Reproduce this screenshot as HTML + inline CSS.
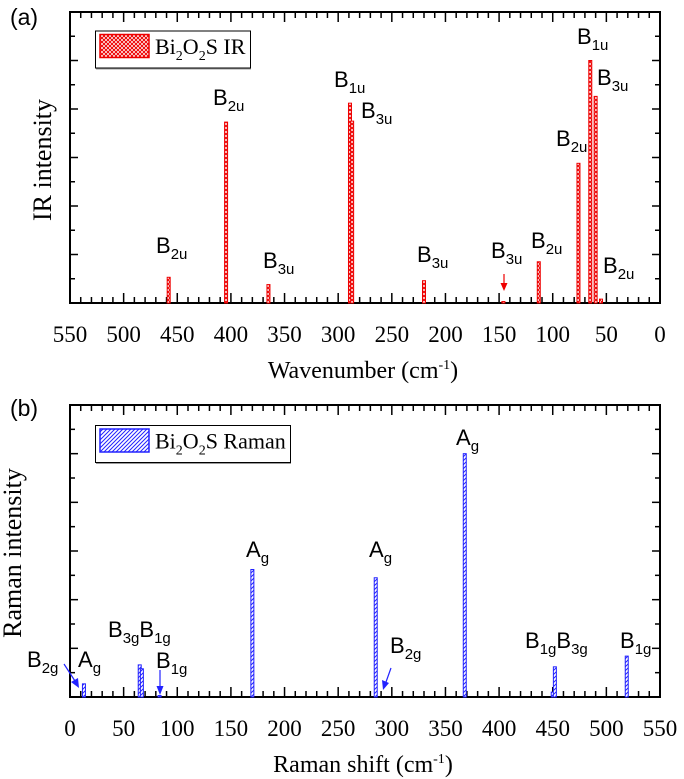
<!DOCTYPE html>
<html><head><meta charset="utf-8"><style>
html,body{margin:0;padding:0;background:#fff;}
svg{display:block;}
</style></head><body>
<svg id="chart" width="684" height="779" viewBox="0 0 684 779" xmlns="http://www.w3.org/2000/svg">
<defs>
<pattern id="xh" width="4" height="4" patternUnits="userSpaceOnUse"><rect width="4" height="4" fill="#fff"/><path d="M0 0L4 4M4 0L0 4" stroke="#e00" stroke-width="1"/></pattern>
<pattern id="dh" width="4" height="4" patternUnits="userSpaceOnUse"><rect width="4" height="4" fill="#fff"/><path d="M-1 1L1 -1M0 4L4 0M3 5L5 3" stroke="#22f" stroke-width="1"/></pattern>
</defs>
<g id="root"></g>
</svg>
<script>
// Panel (a) IR data
const irWavenumbers = [458, 404.5, 365, 289, 287, 220, 146, 113, 76, 65, 60, 55];
const irIntensity = [0.53, 3.73, 0.38, 4.12, 3.75, 0.46, 0.03, 0.85, 2.88, 5.0, 4.26, 0.08];
const irTickLabels = ["550","500","450","400","350","300","250","200","150","100","50","0"];
// Panel (b) Raman data
const ramanShift = [13, 65, 67, 83.5, 170, 285, 368, 450, 452, 519];
const ramanIntensity = [0.27, 0.66, 0.58, 0.03, 2.62, 2.45, 5.0, 0.1, 0.62, 0.84];
const ramanTickLabels = ["0","50","100","150","200","250","300","350","400","450","500","550"];

const NS = "http://www.w3.org/2000/svg";
const root = document.getElementById('root');
function mk(tag, attrs, parent) {
  const e = document.createElementNS(NS, tag);
  for (const k in attrs) e.setAttribute(k, attrs[k]);
  (parent || root).appendChild(e);
  return e;
}
const L = 70, R = 660;
function panel(opt) {
  const g = mk('g', {});
  
  
  const top = opt.top, bot = opt.bot;
  const xs = v => opt.reverse ? R - v * (R - L) / 550 : L + v * (R - L) / 550;
  const ys = v => bot - v * (bot - top) / 6;
  const fr = mk('rect', {x: L, y: top, width: R - L, height: bot - top, fill: 'none', stroke: '#000', 'stroke-width': 2}, g);
  
  
  for (let v = 0; v <= 550; v += 10) {
    const major = v % 50 === 0;
    const len = major ? 10 : 6;
    const x = xs(v);
    mk('line', {x1: x, x2: x, y1: bot, y2: bot - len, stroke: '#000', 'stroke-width': 1.5}, g);
    mk('line', {x1: x, x2: x, y1: top, y2: top + len, stroke: '#000', 'stroke-width': 1.5}, g);
  }
  const labs = opt.tickLabels;
  for (let i = 0; i < labs.length; i++) {
    const v = opt.reverse ? 550 - i * 50 : i * 50;
    const t = mk('text', {x: xs(v), y: opt.tickY, 'text-anchor': 'middle', 'font-family': 'Liberation Serif, serif', 'font-size': 23}, g);
    t.textContent = labs[i];
    
    
  }
  for (let k = 1; k < 12; k++) {
    const y = ys(k / 2);
    const len = k % 2 === 0 ? 8 : 5;
    mk('line', {x1: L, x2: L + len, y1: y, y2: y, stroke: '#000', 'stroke-width': 1.5}, g);
    mk('line', {x1: R, x2: R - len, y1: y, y2: y, stroke: '#000', 'stroke-width': 1.5}, g);
  }
  for (let i = 0; i < opt.xs.length; i++) {
    const x = xs(opt.xs[i]);
    const y = ys(opt.vals[i]);
    const b = mk('rect', {x: x - 1.5, y: y, width: 3, height: Math.max(bot - y, 1), fill: opt.fill, stroke: opt.color, 'stroke-width': 1}, g);
    
    
  }
  return g;
}
panel({name: 'ir-panel', top: 12, bot: 303, reverse: true, xs: irWavenumbers, vals: irIntensity, tickLabels: irTickLabels, tickY: 342, fill: 'url(#xh)', color: '#e00'});
panel({name: 'raman-panel', top: 405, bot: 697, reverse: false, xs: ramanShift, vals: ramanIntensity, tickLabels: ramanTickLabels, tickY: 736, fill: 'url(#dh)', color: '#22f'});

function lbl(x, y, main, sub, name) {
  const t = mk('text', {x: x, y: y, 'font-family': 'Liberation Sans, sans-serif', 'font-size': 22});
  
  
  const s1 = mk('tspan', {}, t); s1.textContent = main;
  const s2 = mk('tspan', {dy: 6, 'font-size': 15}, t); s2.textContent = sub;
  return t;
}
function lbl2(x, y, m1, s1, m2, s2, name) {
  const t = mk('text', {x: x, y: y, 'font-family': 'Liberation Sans, sans-serif', 'font-size': 22});
  
  
  let a = mk('tspan', {}, t); a.textContent = m1;
  a = mk('tspan', {dy: 6, 'font-size': 15}, t); a.textContent = s1;
  a = mk('tspan', {dy: -6}, t); a.textContent = m2;
  a = mk('tspan', {dy: 6, 'font-size': 15}, t); a.textContent = s2;
}
lbl(156, 253, 'B', '2u', 'mode-label');
lbl(213, 105, 'B', '2u', 'mode-label');
lbl(263, 268, 'B', '3u', 'mode-label');
lbl(334, 87, 'B', '1u', 'mode-label');
lbl(361, 118, 'B', '3u', 'mode-label');
lbl(417, 262, 'B', '3u', 'mode-label');
lbl(491, 258, 'B', '3u', 'mode-label');
lbl(531, 248, 'B', '2u', 'mode-label');
lbl(556, 146, 'B', '2u', 'mode-label');
lbl(577, 44, 'B', '1u', 'mode-label');
lbl(597, 85, 'B', '3u', 'mode-label');
lbl(603, 273, 'B', '2u', 'mode-label');
mk('line', {x1: 504, x2: 504, y1: 274, y2: 284, stroke: '#e00', 'stroke-width': 1.2});
mk('path', {d: 'M500.5 283L507.5 283L504 291Z', fill: '#e00'});
lbl(27, 667, 'B', '2g', 'mode-label');
lbl(78, 667, 'A', 'g', 'mode-label');
lbl2(108, 637, 'B', '3g', 'B', '1g', 'mode-label');
lbl(156, 668, 'B', '1g', 'mode-label');
lbl(246, 557, 'A', 'g', 'mode-label');
lbl(369, 557, 'A', 'g', 'mode-label');
lbl(390, 653, 'B', '2g', 'mode-label');
lbl(456, 445, 'A', 'g', 'mode-label');
lbl2(525, 648, 'B', '1g', 'B', '3g', 'mode-label');
lbl(620, 648, 'B', '1g', 'mode-label');
mk('line', {x1: 64, x2: 75, y1: 664, y2: 681, stroke: '#22f', 'stroke-width': 1.2});
mk('path', {d: 'M71 682L78 678L79 688Z', fill: '#22f'});
mk('line', {x1: 160, x2: 160, y1: 670, y2: 687, stroke: '#22f', 'stroke-width': 1.2});
mk('path', {d: 'M156.5 686L163.5 686L160 695Z', fill: '#22f'});
mk('line', {x1: 391, x2: 386, y1: 668, y2: 682, stroke: '#22f', 'stroke-width': 1.2});
mk('path', {d: 'M382 680L389 683L383 690Z', fill: '#22f'});

function legend(y0, w, fill, color, label, name) {
  const g = mk('g', {});
  
  
  mk('rect', {x: 95.5, y: y0, width: w, height: 37, fill: '#fff', stroke: '#000', 'stroke-width': 1}, g);
  mk('line', {x1: 96, x2: 96 + w, y1: y0 + 38, y2: y0 + 38, stroke: '#999', 'stroke-width': 1}, g);
  mk('rect', {x: 100, y: y0 + 3.5, width: 49, height: 23, fill: fill, stroke: color, 'stroke-width': 1.5}, g);
  const t = mk('text', {x: 155, y: y0 + 23, 'font-family': 'Liberation Serif, serif', 'font-size': 22}, g);
  let a = mk('tspan', {}, t); a.textContent = 'Bi';
  a = mk('tspan', {dy: 6, 'font-size': 14}, t); a.textContent = '2';
  a = mk('tspan', {dy: -6}, t); a.textContent = 'O';
  a = mk('tspan', {dy: 6, 'font-size': 14}, t); a.textContent = '2';
  a = mk('tspan', {dy: -6}, t); a.textContent = 'S ' + label;
}
legend(31, 155, 'url(#xh)', '#e00', 'IR', 'ir-legend');
legend(425.5, 195, 'url(#dh)', '#22f', 'Raman', 'raman-legend');

function title(x, y, rot, name, sans, size) {
  const t = mk('text', {x: x, y: y, 'text-anchor': 'middle', 'font-family': sans ? 'Liberation Sans, sans-serif' : 'Liberation Serif, serif', 'font-size': size || 24});
  if (rot) t.setAttribute('transform', 'rotate(-90 ' + x + ' ' + y + ')');
  
  
  return t;
}
let t = title(363, 378, false, 'x-axis-title-ir');
let s = mk('tspan', {}, t); s.textContent = 'Wavenumber (cm';
s = mk('tspan', {dy: -9, 'font-size': 14}, t); s.textContent = '-1';
s = mk('tspan', {dy: 9}, t); s.textContent = ')';
t = title(363, 772, false, 'x-axis-title-raman');
s = mk('tspan', {}, t); s.textContent = 'Raman shift (cm';
s = mk('tspan', {dy: -9, 'font-size': 14}, t); s.textContent = '-1';
s = mk('tspan', {dy: 9}, t); s.textContent = ')';
t = title(51, 160, true, 'y-axis-title-ir', false, 26); t.textContent = 'IR intensity';
t = title(21, 553, true, 'y-axis-title-raman', false, 26); t.textContent = 'Raman intensity';
t = title(24, 25, false, 'panel-label-a', true, 23); t.textContent = '(a)';
t = title(24, 416, false, 'panel-label-b', true, 23); t.textContent = '(b)';
</script>
</body></html>
